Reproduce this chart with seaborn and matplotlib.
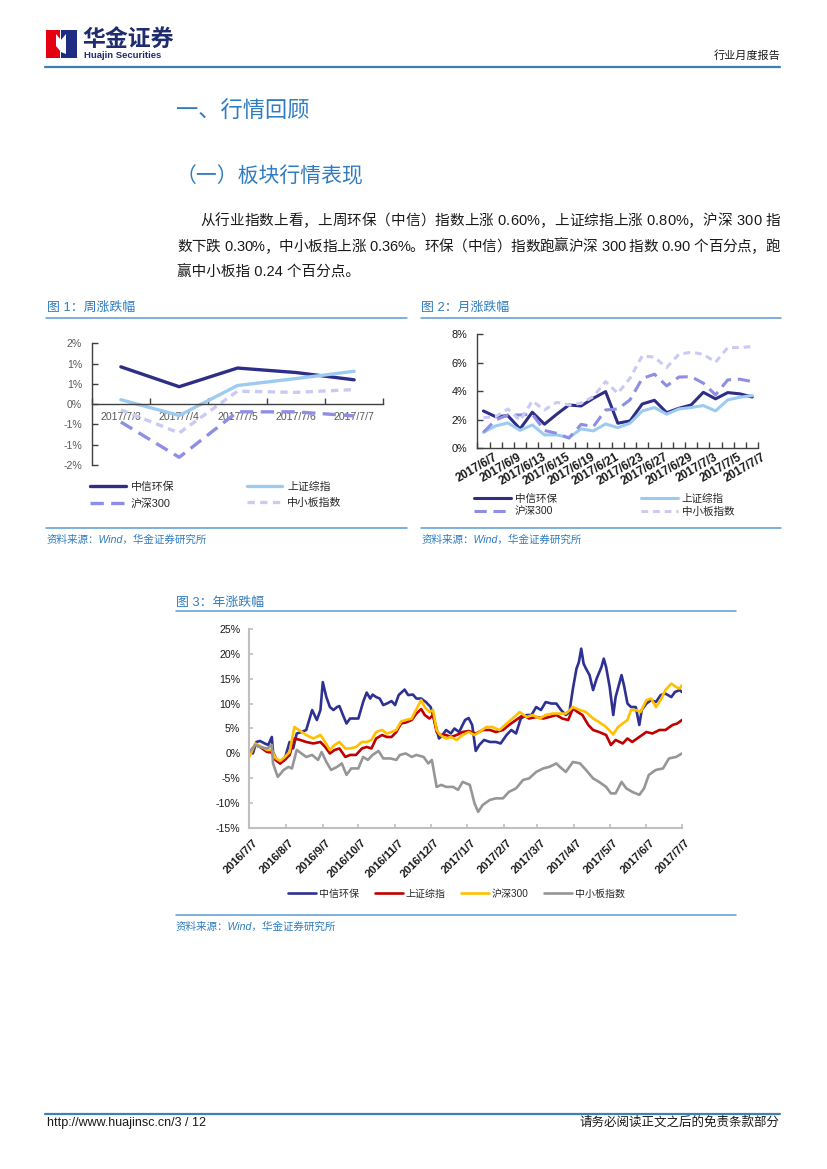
import matplotlib
matplotlib.use("Agg")
import matplotlib.pyplot as plt
import matplotlib.transforms as mtransforms
from matplotlib.patches import Rectangle, Polygon
from matplotlib.lines import Line2D
from matplotlib.font_manager import FontProperties
import pandas as pd
import seaborn as sns

# ---------------- data ----------------
series_names = ['中信环保', '上证综指', '沪深300', '中小板指数']

# 图1 周涨跌幅 (%)
week_dates = ['2017/7/3', '2017/7/4', '2017/7/5', '2017/7/6', '2017/7/7']
week_hb = [0.92, 0.43, 0.89, 0.78, 0.60]
week_sh = [0.11, -0.28, 0.46, 0.63, 0.81]
week_hs300 = [-0.44, -1.31, -0.19, -0.19, -0.29]
week_zxb = [-0.14, -0.71, 0.32, 0.29, 0.36]
week_yticks = [-1.5, -1.0, -0.5, 0.0, 0.5, 1.0, 1.5]
week_ylabels = ['-2%', '-1%', '-1%', '0%', '1%', '1%', '2%']

# 图2 月涨跌幅 (%)
month_dates = ['2017/6/7', '2017/6/8', '2017/6/9', '2017/6/12', '2017/6/13', '2017/6/14',
               '2017/6/15', '2017/6/16', '2017/6/19', '2017/6/20', '2017/6/21', '2017/6/22',
               '2017/6/23', '2017/6/26', '2017/6/27', '2017/6/28', '2017/6/29', '2017/6/30',
               '2017/7/3', '2017/7/4', '2017/7/5', '2017/7/6', '2017/7/7']
month_hb = [2.62, 2.22, 2.29, 1.36, 2.53, 1.69, 2.39, 3.04, 2.97, 3.51, 3.98, 1.76,
            1.92, 3.11, 3.37, 2.50, 2.81, 3.04, 3.93, 3.47, 3.91, 3.82, 3.60]
month_sh = [1.12, 1.57, 1.78, 1.26, 1.64, 0.94, 0.94, 0.75, 1.36, 1.22, 1.71, 1.45,
            1.76, 2.62, 2.86, 2.39, 2.76, 2.86, 3.00, 2.62, 3.40, 3.58, 3.70]
month_hs300 = [1.12, 1.99, 2.34, 2.34, 2.40, 1.25, 1.05, 0.72, 1.68, 1.52, 2.69, 2.76,
               3.40, 4.90, 5.20, 4.38, 5.00, 5.03, 4.57, 3.75, 4.80, 4.85, 4.68]
month_zxb = [2.15, 2.22, 2.76, 1.95, 3.32, 2.69, 3.23, 3.04, 3.16, 3.63, 4.68, 3.86,
             4.92, 6.49, 6.39, 5.67, 6.60, 6.74, 6.60, 6.04, 7.07, 7.07, 7.14]

# 图3 年涨跌幅 (%), days counted from 2016/7/7
year_start = '2016-07-07'
year_ticks = ['2016/7/7', '2016/8/7', '2016/9/7', '2016/10/7', '2016/11/7', '2016/12/7',
              '2017/1/7', '2017/2/7', '2017/3/7', '2017/4/7', '2017/5/7', '2017/6/7', '2017/7/7']
hb_days = [0, 3, 6, 9, 13, 16, 19, 20, 23, 26, 30, 34, 37, 40, 44, 48, 53, 57, 60, 62,
           65, 68, 71, 74, 76, 79, 82, 85, 92, 96, 99, 102, 104, 107, 110, 113, 116, 120,
           123, 126, 131, 134, 138, 141, 145, 149, 153, 156, 160, 163, 166, 170, 173, 177,
           182, 185, 188, 191, 194, 198, 203, 208, 212, 217, 221, 225, 229, 234, 238, 242,
           246, 250, 255, 259, 263, 267, 270, 273, 276, 278, 280, 282, 284, 287, 290, 293,
           297, 299, 301, 304, 307, 309, 314, 316, 319, 322, 326, 329, 331, 335, 339, 343,
           347, 351, 356, 359, 363, 365]
hb_vals = [0.7, 0.0, 2.3, 2.5, 2.0, 1.7, 3.3, 0.3, -1.3, -2.0, -1.0, 2.3, 1.0, 4.0, 4.3,
           4.7, 8.7, 6.7, 8.7, 14.3, 11.3, 9.3, 8.7, 9.3, 9.5, 7.7, 6.0, 7.0, 7.0, 10.3,
           12.2, 11.0, 11.8, 11.3, 11.0, 9.7, 10.0, 10.5, 9.7, 11.7, 12.8, 11.7, 11.8, 11.0,
           11.0, 10.3, 9.3, 6.7, 3.0, 3.7, 4.7, 4.0, 5.0, 4.3, 6.7, 7.1, 5.7, 0.5, 1.7, 2.7,
           2.3, 2.3, 2.0, 3.7, 4.7, 4.0, 7.0, 7.7, 7.7, 9.3, 8.7, 10.3, 10.0, 10.0, 8.7, 7.7,
           8.3, 13.0, 17.0, 18.3, 21.0, 18.0, 17.0, 15.7, 12.7, 15.0, 17.3, 19.0, 17.3, 13.3,
           7.7, 11.3, 15.7, 13.7, 10.0, 9.3, 9.3, 5.7, 8.7, 10.0, 10.7, 10.3, 11.7, 12.0,
           11.3, 12.3, 12.7, 12.3]
sh_days = [0, 5, 9, 15, 19, 22, 26, 30, 34, 38, 43, 48, 54, 60, 64, 68, 72, 76, 81, 85,
           90, 95, 99, 103, 107, 112, 116, 120, 124, 128, 132, 137, 141, 145, 148, 152, 155,
           158, 161, 166, 170, 175, 180, 185, 191, 197, 203, 208, 214, 219, 225, 231, 236,
           242, 248, 253, 259, 264, 269, 273, 277, 281, 286, 290, 295, 301, 305, 309, 315,
           319, 323, 329, 335, 340, 346, 351, 357, 361, 365]
sh_vals = [-0.3, 1.7, 1.3, 0.3, 0.2, -1.3, -2.0, -1.3, -0.3, 3.0, 2.7, 2.3, 2.0, 2.3, 1.3,
           0.0, 0.7, 1.0, -0.7, -0.3, -0.3, 1.0, 1.3, 1.0, 3.0, 3.7, 3.3, 3.3, 4.3, 6.0, 6.2,
           6.7, 8.0, 8.9, 7.7, 7.0, 7.7, 4.3, 3.7, 3.7, 3.3, 3.7, 4.3, 4.5, 4.0, 4.7, 4.7,
           4.3, 4.7, 5.7, 6.7, 7.7, 7.0, 7.3, 7.0, 7.3, 7.7, 7.0, 6.7, 9.0, 8.3, 7.7, 5.7,
           4.7, 4.3, 3.7, 1.7, 2.7, 2.0, 3.0, 2.3, 3.3, 4.3, 4.0, 4.7, 4.7, 5.7, 6.0, 6.7]
hs_days = [0, 5, 9, 15, 19, 22, 26, 30, 34, 38, 43, 48, 54, 60, 64, 68, 72, 76, 81, 85,
           90, 95, 99, 103, 107, 112, 116, 120, 124, 128, 132, 137, 141, 145, 148, 152, 155,
           158, 161, 166, 170, 175, 180, 185, 190, 194, 200, 205, 211, 217, 222, 228, 234,
           239, 245, 250, 256, 262, 267, 273, 279, 284, 290, 295, 301, 307, 311, 315, 319,
           322, 326, 330, 335, 339, 343, 347, 351, 356, 360, 363, 365]
hs_vals = [-0.7, 2.0, 1.5, 0.7, 0.7, -0.9, -1.5, -0.7, 0.3, 5.3, 4.5, 3.7, 3.0, 3.7, 2.3,
           0.7, 1.7, 2.3, 1.0, 1.0, 1.3, 2.3, 2.3, 2.7, 4.3, 4.7, 4.0, 4.3, 4.7, 6.4, 6.7,
           7.0, 8.9, 10.7, 9.3, 8.3, 8.7, 4.7, 3.7, 3.0, 3.3, 2.7, 3.7, 4.3, 3.7, 4.3, 5.3,
           5.3, 4.7, 6.0, 7.0, 8.3, 7.3, 7.7, 7.0, 7.7, 8.0, 8.0, 8.0, 9.3, 8.7, 8.3, 7.0,
           6.3, 5.3, 3.8, 5.3, 6.0, 6.7, 8.7, 8.7, 8.3, 10.7, 11.0, 9.3, 10.7, 12.7, 14.0,
           13.3, 13.0, 13.7]
zx_days = [0, 5, 9, 15, 19, 20, 24, 29, 33, 36, 40, 44, 48, 53, 58, 61, 65, 69, 74, 78,
           82, 86, 92, 96, 100, 104, 109, 113, 119, 124, 127, 132, 137, 141, 147, 151, 154,
           158, 162, 166, 172, 176, 180, 186, 190, 193, 197, 203, 208, 214, 219, 225, 231,
           236, 242, 248, 253, 259, 262, 267, 273, 279, 284, 290, 295, 301, 305, 309, 314,
           318, 323, 329, 333, 337, 343, 349, 354, 360, 365]
zx_vals = [0.3, 1.7, 1.3, 1.0, 1.7, -2.0, -4.7, -3.3, -2.7, -3.0, 0.7, 0.0, -0.7, -0.3,
           -1.3, 0.3, -1.7, -3.3, -2.7, -2.0, -4.3, -3.0, -3.0, -0.7, -1.3, -0.3, 0.5, -1.0,
           -1.0, -1.3, -0.3, 0.0, -0.7, -0.3, -0.7, -2.0, -1.3, -6.7, -6.3, -6.7, -6.7, -7.3,
           -5.7, -6.3, -10.0, -11.7, -10.3, -9.3, -9.0, -9.0, -7.7, -7.0, -5.3, -5.0, -3.7,
           -3.0, -2.7, -2.0, -2.7, -3.7, -1.7, -2.0, -3.3, -5.0, -5.7, -6.7, -8.0, -8.0,
           -5.7, -7.0, -7.7, -8.3, -7.0, -4.3, -3.3, -3.0, -1.0, -0.7, 0.0]
year_yticks = [-15, -10, -5, 0, 5, 10, 15, 20, 25]

body_lines = [
    '从行业指数上看，上周环保（中信）指数上涨 0.60%，上证综指上涨 0.80%，沪深 300 指',
    '数下跌 0.30%，中小板指上涨 0.36%。环保（中信）指数跑赢沪深 300 指数 0.90 个百分点，跑',
    '赢中小板指 0.24 个百分点。',
]

# ---------------- page setup ----------------
PAGE_W, PAGE_H = 827, 1169
BLUE = '#2F7CC0'
RULE = '#5B9BD5'
pal_small = ['#2E2E86', '#9DCBF0', '#8E8EE4', '#CACAF2']
pal_year = ['#2E3192', '#C00000', '#FFC000', '#969696']

sns.set_theme(style='white')
plt.rcParams['font.family'] = ['Liberation Sans', 'Noto Sans CJK SC', 'DejaVu Sans']
plt.rcParams['axes.unicode_minus'] = False

fig = plt.figure(figsize=(PAGE_W / 100, PAGE_H / 100), dpi=100)


def fx(x):
    return x / PAGE_W


def fy(y):
    return 1 - y / PAGE_H


def axes_px(left, top, right, bottom):
    return fig.add_axes([fx(left), fy(bottom), (right - left) / PAGE_W, (bottom - top) / PAGE_H])


def rule(x0, x1, y, color=RULE, lw=1.1):
    fig.add_artist(Line2D([fx(x0), fx(x1)], [fy(y), fy(y)], color=color, lw=lw,
                          transform=fig.transFigure))


def label(x, y, s, **kw):
    fig.text(fx(x), fy(y), s, **kw)


def justified(text, x0, x1, y, size, color):
    renderer = fig.canvas.get_renderer()
    prop = FontProperties(family=plt.rcParams['font.family'], size=size)

    def width(s):
        return renderer.get_text_width_height_descent(s, prop, ismath=False)[0]

    starts = [0.0] + [width(text[:k + 1]) - width(text[k]) for k in range(1, len(text))]
    extra = (x1 - x0 - width(text)) / (len(text) - 1)
    for k, ch in enumerate(text):
        if ch != ' ':
            label(x0 + starts[k] + k * extra, y, ch, fontsize=size, color=color,
                  ha='left', va='baseline')


# header
fig.add_artist(Rectangle((fx(46), fy(58)), 14 / PAGE_W, 28 / PAGE_H,
                         transform=fig.transFigure, color='#E50012', lw=0))
fig.add_artist(Rectangle((fx(61), fy(58)), 16 / PAGE_W, 28 / PAGE_H,
                         transform=fig.transFigure, color='#1F2C84', lw=0))
fig.add_artist(Polygon([(fx(56), fy(34)), (fx(61), fy(40)), (fx(61), fy(52)), (fx(56), fy(46))],
                       closed=True, transform=fig.transFigure, color='white', lw=0))
fig.add_artist(Polygon([(fx(61), fy(40)), (fx(66), fy(34)), (fx(66), fy(54)), (fx(61), fy(52))],
                       closed=True, transform=fig.transFigure, color='white', lw=0))
label(82, 40, '华金证券', fontsize=16.5, fontweight='bold', color='#1F2C6E', va='center')
label(84, 56, 'Huajin Securities', fontsize=6.8, fontweight='bold', color='#1F2C6E', va='center')
label(780, 56, '行业月度报告', fontsize=8, color='#1A1A1A', ha='right', va='center')
rule(45, 780, 67, color='#3F80B4', lw=1.6)

# titles and body
label(176, 112, '一、行情回顾', fontsize=16, color=BLUE, va='center')
label(176, 176, '（一）板块行情表现', fontsize=15, color=BLUE, va='center')
justified(body_lines[0], 200, 780, 225, 10.5, '#1A1A1A')
justified(body_lines[1], 177, 780, 251, 10.5, '#1A1A1A')
label(177, 277, body_lines[2], fontsize=10.5, color='#1A1A1A', va='baseline')

# footer
rule(45, 780, 1114, color='#3F80B4', lw=1.6)
label(47, 1123, 'http://www.huajinsc.cn/3 / 12', fontsize=9, color='#1A1A1A', va='center')
label(780, 1123, '请务必阅读正文之后的免责条款部分', fontsize=9, color='#1A1A1A',
      ha='right', va='center')

small_styles = [dict(color=pal_small[0], linestyle='-'),
                dict(color=pal_small[1], linestyle='-'),
                dict(color=pal_small[2], linestyle=(0, (4.0, 2.2))),
                dict(color=pal_small[3], linestyle=(0, (2.2, 1.6)))]

# ---------------- 图1 ----------------
label(47, 308, '图 1：周涨跌幅', fontsize=9.3, color=BLUE, va='center')
rule(46, 407, 318)
ax1 = axes_px(91.7, 343.3, 383.3, 465)
x_week = list(range(len(week_dates)))
for vals, name, st in zip([week_hb, week_sh, week_hs300, week_zxb], series_names, small_styles):
    sns.lineplot(x=x_week, y=vals, ax=ax1, linewidth=2.4, label=name, legend=False, **st)
ax1.set_xlim(-0.5, len(week_dates) - 0.5)
ax1.set_ylim(-1.5, 1.5)
ax1.set_yticks(week_yticks, week_ylabels)
ax1.set_xticks(x_week, week_dates)
ax1.set_xticks([i - 0.5 for i in range(len(week_dates) + 1)], minor=True)
ax1.spines['bottom'].set_position(('data', 0))
sns.despine(ax=ax1)
for sp in ['left', 'bottom']:
    ax1.spines[sp].set_color('#404040')
    ax1.spines[sp].set_linewidth(1.0)
ax1.tick_params(axis='x', which='major', length=0, pad=6, labelsize=7.6, labelcolor='#595959')
ax1.tick_params(axis='x', which='minor', bottom=True, length=4, width=1, direction='in',
                color='#404040')
ax1.tick_params(axis='y', left=True, length=4, width=1, direction='in', pad=7,
                labelsize=7.6, labelcolor='#595959', color='#404040')
h = ax1.get_lines()
ax1.legend([h[0], h[2], h[1], h[3]], [series_names[0], series_names[2], series_names[1],
                                      series_names[3]],
           loc='upper left', bbox_to_anchor=(fx(90), fy(481)), bbox_transform=fig.transFigure,
           ncol=2, frameon=False, fontsize=7.8, handlelength=3.3, handletextpad=0.45,
           columnspacing=6.7, labelspacing=0.6, borderpad=0, borderaxespad=0)
rule(46, 407, 527.5)
label(47, 539.5, '资料来源：Wind，华金证券研究所', fontsize=7.6, color=BLUE, va='center',
      style='italic')

# ---------------- 图2 ----------------
label(421, 308, '图 2：月涨跌幅', fontsize=9.3, color=BLUE, va='center')
rule(421, 781, 318)
ax2 = axes_px(477.3, 334.3, 758.3, 448.3)
x_month = list(range(len(month_dates)))
for vals, name, st in zip([month_hb, month_sh, month_hs300, month_zxb], series_names,
                          small_styles):
    sns.lineplot(x=x_month, y=vals, ax=ax2, linewidth=2.2, label=name, legend=False, **st)
ax2.set_xlim(-0.5, len(month_dates) - 0.5)
ax2.set_ylim(0, 8)
ax2.set_yticks([0, 2, 4, 6, 8], ['0%', '2%', '4%', '6%', '8%'])
ax2.set_xticks([i - 0.5 for i in range(len(month_dates) + 1)], [''] * (len(month_dates) + 1))
sns.despine(ax=ax2)
for sp in ['left', 'bottom']:
    ax2.spines[sp].set_color('#404040')
    ax2.spines[sp].set_linewidth(1.0)
ax2.tick_params(axis='x', bottom=True, length=4, width=1, direction='in', color='#404040')
ax2.tick_params(axis='y', left=True, length=4, width=1, direction='in', pad=7,
                labelsize=7.8, labelcolor='#1A1A1A', color='#404040')
tr2 = mtransforms.blended_transform_factory(ax2.transData, ax2.transAxes) + \
    mtransforms.ScaledTranslation(10 / 100, -3 / 100, fig.dpi_scale_trans)
for i in x_month[::2]:
    ax2.text(i, 0, month_dates[i], transform=tr2, rotation=30, ha='right', va='top',
             rotation_mode='anchor', fontsize=8.5, fontweight='bold', color='#1A1A1A')
h = ax2.get_lines()
ax2.legend([h[0], h[2], h[1], h[3]], [series_names[0], series_names[2], series_names[1],
                                      series_names[3]],
           loc='upper left', bbox_to_anchor=(fx(474), fy(494)), bbox_transform=fig.transFigure,
           ncol=2, frameon=False, fontsize=7.6, handlelength=3.5, handletextpad=0.35,
           columnspacing=8.0, labelspacing=0.22, borderpad=0, borderaxespad=0)
rule(421, 781, 527.5)
label(422, 539.5, '资料来源：Wind，华金证券研究所', fontsize=7.6, color=BLUE, va='center',
      style='italic')

# ---------------- 图3 ----------------
label(176, 603, '图 3：年涨跌幅', fontsize=9.3, color=BLUE, va='center')
rule(176, 736, 611)
ax3 = axes_px(249.3, 628.7, 682, 828.3)
t0 = pd.Timestamp(year_start)
for days, vals, name, col in zip([hb_days, sh_days, hs_days, zx_days],
                                 [hb_vals, sh_vals, hs_vals, zx_vals], series_names, pal_year):
    dates = t0 + pd.to_timedelta(days, unit='D')
    sns.lineplot(x=dates, y=vals, ax=ax3, color=col, linewidth=1.9, label=name, legend=False)
tick_dates = pd.to_datetime(year_ticks, format='%Y/%m/%d')
ax3.set_xlim(tick_dates[0], tick_dates[-1])
ax3.set_ylim(-15, 25)
ax3.set_yticks(year_yticks, [f'{v}%' for v in year_yticks])
ax3.set_xticks(tick_dates, [''] * len(tick_dates))
ax3.set_xlabel('')
ax3.set_ylabel('')
sns.despine(ax=ax3)
for sp in ['left', 'bottom']:
    ax3.spines[sp].set_color('#BFBFBF')
    ax3.spines[sp].set_linewidth(1.5)
ax3.tick_params(axis='x', bottom=True, length=3, width=1.2, direction='in', color='#BFBFBF')
ax3.tick_params(axis='y', left=True, length=3, width=1.2, direction='in', pad=6.5,
                labelsize=7.6, labelcolor='#1A1A1A', color='#BFBFBF')
tr3 = mtransforms.blended_transform_factory(ax3.transData, ax3.transAxes) + \
    mtransforms.ScaledTranslation(3 / 100, -9 / 100, fig.dpi_scale_trans)
for d, s in zip(tick_dates, year_ticks):
    ax3.text(d, 0, s, transform=tr3, rotation=45, ha='right', va='top',
             rotation_mode='anchor', fontsize=8, fontweight='bold', color='#1A1A1A')
ax3.legend(ax3.get_lines(), series_names, loc='upper left', bbox_to_anchor=(fx(288), fy(888.5)),
           bbox_transform=fig.transFigure, ncol=4, frameon=False, fontsize=7.2,
           handlelength=2.8, handletextpad=0.25, columnspacing=1.6, borderpad=0,
           borderaxespad=0)
rule(176, 736, 915)
label(176, 927, '资料来源：Wind，华金证券研究所', fontsize=7.6, color=BLUE, va='center',
      style='italic')

fig.savefig('out.png', dpi=100)
